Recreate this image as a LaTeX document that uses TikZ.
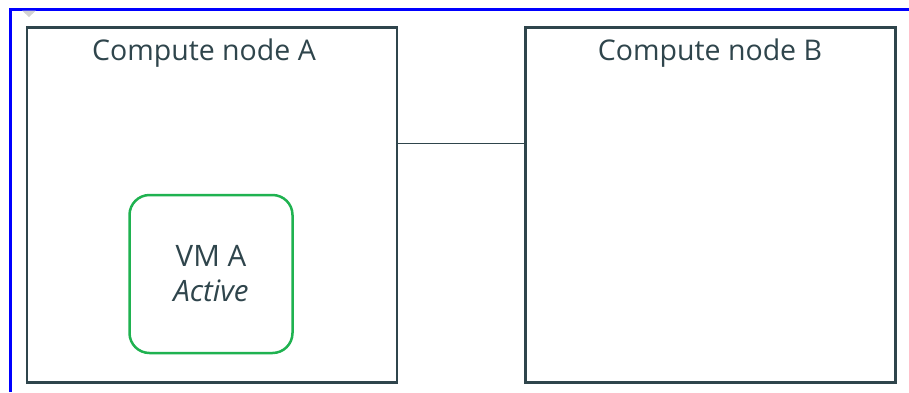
\documentclass[tikz,border=0pt]{standalone}
\usepackage{fontspec}
\setmainfont{Open Sans}
\usetikzlibrary{positioning}

\definecolor{slate}{HTML}{2F454C}
\definecolor{vmgreen}{HTML}{1FB250}

\begin{document}
\begin{tikzpicture}[x=1pt,y=-1pt,
  host/.style={draw=slate, line width=2.4pt, minimum width=370pt, minimum height=355pt, inner sep=0pt},
  title/.style={text=slate, font=\fontsize{28.5}{32}\selectfont},
  vm/.style={draw=vmgreen, line width=2.5pt, rounded corners=20pt, minimum width=163pt, minimum height=158pt,
    text=slate, align=center, font=\fontsize{29.5}{35}\selectfont},
  link/.style={draw=slate, line width=0.9pt}]
\useasboundingbox (0,0) rectangle (909,392);
\fill[white] (0,0) rectangle (909,392);
% outer frame and the little tab
\draw[blue, line width=2.2pt] (10.5,392) -- (10.5,9.5) -- (909,9.5);
\fill[gray!35] (22,10.5) -- (36,10.5) -- (29,17) -- cycle;
% the two hosts
\node[host] (hostA) at (212,205) {};
\node[host] (hostB) at (710.5,205) {};
\node[title] (titleA) at (204,53) {Compute node A};
\node[title] (titleB) at (710,53) {Compute node B};
\draw[link] ([yshift=-117pt]hostA.north east) -- ([yshift=-117pt]hostB.north west);
% the virtual machine
\node[vm] (vmA) at (211,274) {VM A\\\textit{Active}};
\end{tikzpicture}
\end{document}
